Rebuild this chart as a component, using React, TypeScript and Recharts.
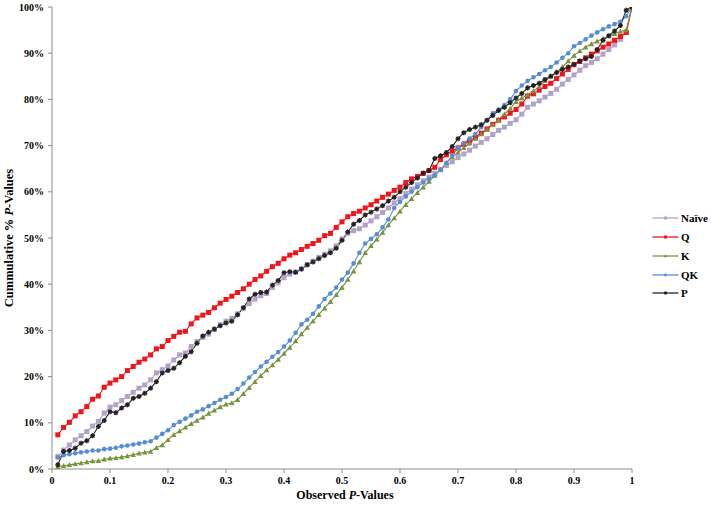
import React from 'react';
import { LineChart, Line, XAxis, YAxis, Legend, Label } from 'recharts';

const pVals = [
  0.01, 0.02, 0.03, 0.04, 0.05, 0.06, 0.07, 0.08, 0.09, 0.1,
  0.11, 0.12, 0.13, 0.14, 0.15, 0.16, 0.17, 0.18, 0.19, 0.2,
  0.21, 0.22, 0.23, 0.24, 0.25, 0.26, 0.27, 0.28, 0.29, 0.3,
  0.31, 0.32, 0.33, 0.34, 0.35, 0.36, 0.37, 0.38, 0.39, 0.4,
  0.41, 0.42, 0.43, 0.44, 0.45, 0.46, 0.47, 0.48, 0.49, 0.5,
  0.51, 0.52, 0.53, 0.54, 0.55, 0.56, 0.57, 0.58, 0.59, 0.6,
  0.61, 0.62, 0.63, 0.64, 0.65, 0.66, 0.67, 0.68, 0.69, 0.7,
  0.71, 0.72, 0.73, 0.74, 0.75, 0.76, 0.77, 0.78, 0.79, 0.8,
  0.81, 0.82, 0.83, 0.84, 0.85, 0.86, 0.87, 0.88, 0.89, 0.9,
  0.91, 0.92, 0.93, 0.94, 0.95, 0.96, 0.97, 0.98, 0.99, 1,
];

const naive = [
  2.7, 4.1, 5.2, 6.3, 7.2, 8.1, 9.3, 10.3, 12.1, 13.4, 13.9, 14.8, 15.7, 16.6, 17.5, 18.2, 19.3, 20.8, 21.5, 22.3, 23.6, 24.7, 25.1, 26.5, 27.6,
  28.5, 29.2, 30.2, 31.2, 32, 32.6, 33.6, 34.8, 35.8, 36.8, 37.5, 38, 39.3, 40.3, 41.4, 42.2, 42.6, 43.3, 44.2, 45, 45.8, 46.5, 47.2, 48.3, 49.8,
  51, 51.6, 52, 52.8, 53.7, 54.6, 55.5, 56.5, 57.6, 58.5, 59.6, 60.6, 61.5, 62.4, 63.2, 64, 64.8, 65.7, 66.5, 67.4, 68.2, 69, 69.9, 70.7, 71.5,
  72.4, 73.3, 74, 74.8, 75.6, 76.8, 78.3, 79, 79.7, 80.5, 81.3, 82.2, 83.3, 84.3, 85.3, 86.3, 87.3, 88, 88.8, 89.8, 90.8, 91.8, 93, 94.5, 100,
];

const q = [
  7.4, 9, 10.1, 11.5, 12.4, 13.5, 15.1, 15.8, 17.7, 18.6, 19.3, 20, 21.3, 22.2, 23.1, 23.8, 24.7, 26, 26.5, 27.8, 28.7, 29.6, 29.8, 31.4, 32.7,
  33.3, 33.9, 34.9, 35.9, 36.7, 37.4, 38.2, 39, 40, 41, 41.8, 42.8, 43.8, 44.5, 45.5, 46.3, 46.8, 47.5, 48.2, 48.8, 49.5, 50.5, 51, 52.3, 53.5,
  54.6, 55.3, 55.8, 56.5, 57.2, 58, 58.8, 59.5, 60.3, 61, 62, 62.8, 63.3, 64, 64.6, 65.3, 67, 68, 68.8, 69.5, 70.3, 71, 71.8, 72.7, 73.6,
  74.6, 75.5, 76.2, 77, 77.8, 79, 80.7, 81.2, 82, 82.8, 83.5, 84.5, 85.5, 86.5, 87.5, 88.2, 89, 89.8, 90.5, 91.3, 92, 92.8, 93.6, 94.5, 100,
];

const k = [
  0.5, 0.7, 0.9, 1.1, 1.3, 1.5, 1.7, 1.8, 2.1, 2.3, 2.4, 2.6, 2.8, 3.1, 3.4, 3.6, 3.8, 4.6, 5.2, 6.3, 7.4, 8.2, 9, 9.8, 10.5,
  11.2, 12, 12.7, 13.4, 14, 14.3, 15, 16.3, 17.6, 18.9, 20.2, 21.4, 22.5, 23.7, 25, 26.3, 27.7, 29.2, 30.6, 32, 33.4, 34.8, 36.2, 37.7, 39.3,
  41, 42.8, 44.8, 46.8, 48.3, 49.7, 51.2, 52.8, 54.3, 55.8, 57.2, 58.5, 59.8, 61, 62.2, 63.5, 64.8, 66.3, 67.5, 68.5, 69.5, 70.5, 71.5, 72.5, 73.5,
  74.5, 75.6, 76.8, 78, 79.5, 80.3, 81, 81.8, 82.8, 84, 85, 86, 87, 88.3, 89.5, 90.5, 91.3, 92, 92.6, 93.2, 93.7, 94.2, 94.7, 95, 100,
];

const qk = [
  2.5, 3, 3.2, 3.4, 3.6, 3.8, 4, 4, 4.3, 4.4, 4.6, 4.9, 5.1, 5.3, 5.5, 5.8, 6, 6.8, 7.6, 8.4, 9.5, 10.2, 10.9, 11.6, 12.4,
  12.9, 13.6, 14.3, 15, 15.6, 16.3, 17.3, 18.5, 19.8, 21, 22.2, 23.2, 24.3, 25.3, 26.5, 27.8, 29.5, 31.3, 32.3, 33.6, 35.2, 36.8, 38, 39.3, 41,
  42.5, 44.5, 46.8, 48.8, 49.8, 50.8, 52.3, 54, 56.5, 57.8, 59, 60, 61, 62, 62.8, 63.6, 64.8, 66.2, 67.8, 69.5, 70.5, 71.5, 72.5, 74, 75.5,
  77, 77.8, 78.8, 80, 81.8, 83, 84, 84.8, 85.5, 86.3, 87, 88, 89, 90, 91.5, 92.2, 93, 93.8, 94.5, 95.2, 95.8, 96.3, 96.8, 98, 100,
];

const pSeries = [
  0.9, 3.8, 4, 4.5, 5.6, 6.1, 7.2, 9.2, 10.5, 12.4, 12.2, 13.2, 13.9, 15.3, 15.7, 16.4, 17.5, 18.9, 20.8, 21.3, 21.8, 23, 24.4, 25.4, 27.2,
  28.8, 29.6, 30.3, 31, 31.6, 32, 33.4, 34.9, 36.8, 37.8, 38.2, 38.3, 39.8, 40.8, 42.5, 42.7, 42.6, 43.3, 44.2, 44.8, 45.5, 46.2, 46.8, 47.8, 49.5,
  51.3, 53, 53.8, 55, 55.6, 56.3, 57, 58, 58.8, 60, 61, 62, 63, 64, 64.6, 67.2, 67.8, 68.5, 69.8, 71.5, 72.8, 73.5, 74, 74.5, 75.5,
  76.5, 77.6, 78.3, 79.3, 80.3, 81.3, 82.5, 83, 83.5, 84.3, 85, 85.8, 86.5, 87, 87.6, 88.3, 88.8, 89.3, 90.8, 92.8, 93.8, 94.8, 96, 99.3, 100,
];

const xTicks = [0, 0.1, 0.2, 0.3, 0.4, 0.5, 0.6, 0.7, 0.8, 0.9, 1];
const yTicks = [0, 10, 20, 30, 40, 50, 60, 70, 80, 90, 100];

const seriesNames = ['Naïve', 'Q', 'K', 'QK', 'P'];

const data = pVals.map((p, i) => ({
  p,
  naive: naive[i],
  q: q[i],
  k: k[i],
  qk: qk[i],
  pp: pSeries[i],
}));

const FONT = '"Liberation Serif", "Times New Roman", serif';

type Shape = 'square' | 'triangle' | 'circle' | 'star';

const SERIES: { key: string; name: string; color: string; shape: Shape; size: number }[] = [
  { key: 'naive', name: seriesNames[0], color: '#B3A2C7', shape: 'square', size: 5 },
  { key: 'q', name: seriesNames[1], color: '#F0141B', shape: 'square', size: 5 },
  { key: 'k', name: seriesNames[2], color: '#77933C', shape: 'triangle', size: 5.5 },
  { key: 'qk', name: seriesNames[3], color: '#558ED5', shape: 'circle', size: 4.6 },
  { key: 'pp', name: seriesNames[4], color: '#222222', shape: 'star', size: 5 },
];

function drawMarker(shape: Shape, color: string, cx: number, cy: number, s: number, key?: any) {
  const h = s / 2;
  if (shape === 'square') {
    return <rect key={key} x={cx - h} y={cy - h} width={s} height={s} fill={color} />;
  }
  if (shape === 'triangle') {
    return (
      <polygon
        key={key}
        points={`${cx},${cy - h} ${cx + h},${cy + h * 0.8} ${cx - h},${cy + h * 0.8}`}
        fill={color}
      />
    );
  }
  if (shape === 'circle') {
    return <circle key={key} cx={cx} cy={cy} r={h} fill={color} />;
  }
  return (
    <g key={key} stroke={color} strokeWidth={1.4}>
      <line x1={cx - h} y1={cy} x2={cx + h} y2={cy} />
      <line x1={cx} y1={cy - h} x2={cx} y2={cy + h} />
      <line x1={cx - h * 0.7} y1={cy - h * 0.7} x2={cx + h * 0.7} y2={cy + h * 0.7} />
      <line x1={cx - h * 0.7} y1={cy + h * 0.7} x2={cx + h * 0.7} y2={cy - h * 0.7} />
    </g>
  );
}

const makeDot = (shape: Shape, color: string, size: number) => (props: any) => {
  const { cx, cy, index } = props;
  if (cx == null || cy == null) return <g key={`e-${index}`} />;
  return drawMarker(shape, color, cx, cy, size, `d-${index}`);
};

const renderLegend = () => (
  <div style={{ fontFamily: FONT, fontWeight: 'bold', fontSize: 11, color: '#000' }}>
    {SERIES.map((s) => (
      <div key={s.key} style={{ display: 'flex', alignItems: 'center', height: 18.75 }}>
        <svg width={28} height={10} style={{ display: 'block' }}>
          <line x1={0.5} y1={5} x2={26.5} y2={5} stroke={s.color} strokeWidth={1.3} />
          {drawMarker(s.shape, s.color, 13.5, 5, s.size * 0.6)}
        </svg>
        <span style={{ marginLeft: 1, lineHeight: '12px' }}>{s.name}</span>
      </div>
    ))}
  </div>
);

const tickStyle = { fill: '#000', fontSize: 10, fontWeight: 'bold' as const, fontFamily: FONT };

export default function App() {
  return (
    <div style={{ position: 'absolute', left: 0, top: 0, width: 711, height: 505, background: '#fff' }}>
      <LineChart width={711} height={505} data={data} margin={{ top: 7, right: 79, bottom: 16, left: 0 }}>
        <XAxis
          type="number"
          dataKey="p"
          domain={[0, 1]}
          ticks={xTicks}
          tickFormatter={(v: number) => String(v)}
          stroke="#8C8C8C"
          tickSize={4}
          tickMargin={4}
          height={20}
          tick={tickStyle}
          allowDataOverflow
        >
          <Label
            content={() => (
              <text x={345} y={499} textAnchor="middle" fontFamily={FONT} fontWeight="bold" fontSize={12} fill="#000">
                Observed <tspan fontStyle="italic">P</tspan>-Values
              </text>
            )}
          />
        </XAxis>
        <YAxis
          type="number"
          domain={[0, 100]}
          ticks={yTicks}
          tickFormatter={(v: number) => `${v}%`}
          stroke="#8C8C8C"
          tickSize={4}
          tickMargin={4}
          width={52}
          tick={tickStyle}
          allowDataOverflow
        >
          <Label
            content={() => (
              <text
                transform="rotate(-90)"
                x={-238}
                y={13}
                textAnchor="middle"
                fontFamily={FONT}
                fontWeight="bold"
                fontSize={12.5}
                fill="#000"
              >
                Cummulative % <tspan fontStyle="italic">P</tspan>-Values
              </text>
            )}
          />
        </YAxis>
        <Legend
          layout="vertical"
          align="center"
          verticalAlign="middle"
          content={renderLegend}
          wrapperStyle={{ position: 'absolute', left: 652, top: 209, width: 60 }}
        />
        {SERIES.map((s) => (
          <Line
            key={s.key}
            type="linear"
            dataKey={s.key}
            name={s.name}
            stroke={s.color}
            strokeWidth={1.1}
            dot={makeDot(s.shape, s.color, s.size)}
            activeDot={false}
            isAnimationActive={false}
          />
        ))}
      </LineChart>
    </div>
  );
}
